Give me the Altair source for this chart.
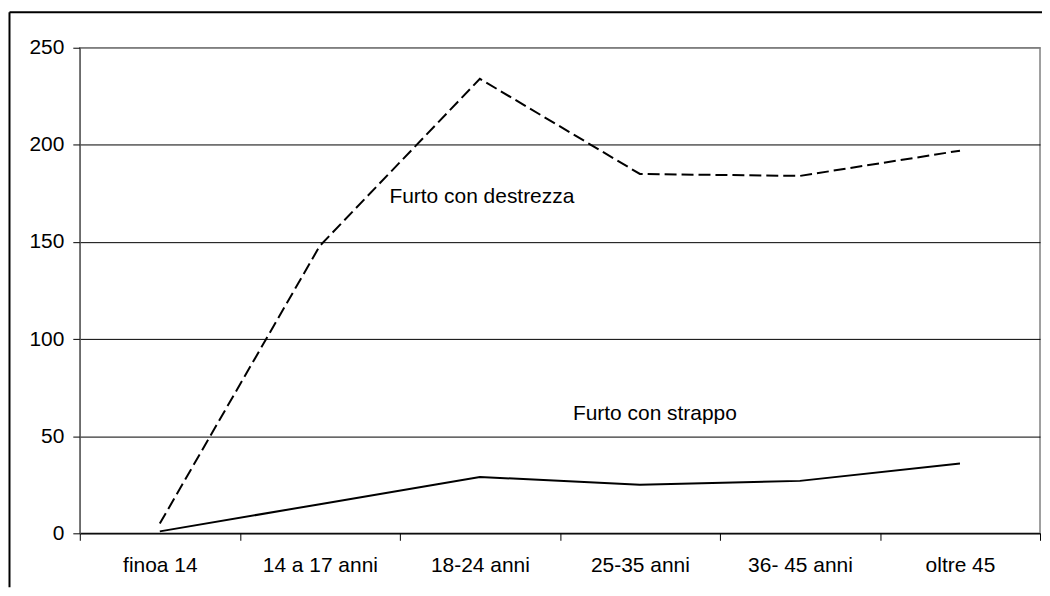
import altair as alt
import pandas as pd

categories = ["finoa 14", "14 a 17 anni", "18-24 anni", "25-35 anni", "36- 45 anni", "oltre 45"]
destrezza = [5, 148, 234, 185, 184, 197]
strappo = [1, 15, 29, 25, 27, 36]

label_text = ["Furto con destrezza", "Furto con strappo"]
label_cat = ["18-24 anni", "25-35 anni"]
label_val = [170, 58.5]

df = pd.DataFrame({
    "cat": categories * 2,
    "value": destrezza + strappo,
    "serie": ["Furto con destrezza"] * 6 + ["Furto con strappo"] * 6,
})
lab = pd.DataFrame({"cat": label_cat, "value": label_val, "text": label_text})

FONT = "Liberation Sans"
FS = 21
W, H = 963, 487
PAD = {"left": 72, "top": 39, "right": 2, "bottom": 54}

x_enc = alt.X(
    "cat:N",
    sort=categories,
    title=None,
    scale=alt.Scale(type="band", paddingInner=0, paddingOuter=0),
    axis=alt.Axis(
        labelAngle=0, tickBand="extent", tickSize=7, tickColor="#000000",
        domainColor="#000000", labelFontSize=FS, labelFont=FONT, labelColor="#000000",
        labelPadding=14, grid=False,
    ),
)
y_enc = alt.Y(
    "value:Q",
    title=None,
    scale=alt.Scale(domain=[0, 250], nice=False),
    axis=alt.Axis(
        values=[0, 50, 100, 150, 200, 250], tickSize=7, tickColor="#000000",
        domainColor="#555555", labelFontSize=FS, labelFont=FONT, labelColor="#000000",
        labelPadding=9, grid=True,
        gridColor={"condition": {"test": "datum.value === 250", "value": "#808080"}, "value": "#000000"},
        gridWidth=1,
    ),
)

base = alt.Chart(df)
dashed = base.transform_filter(alt.datum.serie == "Furto con destrezza").mark_line(
    color="#000000", strokeWidth=2, strokeDash=[12, 5]
).encode(x=x_enc, y=y_enc)
solid = base.transform_filter(alt.datum.serie == "Furto con strappo").mark_line(
    color="#000000", strokeWidth=2
).encode(x=alt.X("cat:N", sort=categories), y="value:Q")

lab1 = alt.Chart(lab.iloc[[0]]).mark_text(
    font=FONT, fontSize=FS, color="#000000", baseline="alphabetic", align="center", dx=2
).encode(x=alt.X("cat:N", sort=categories), y="value:Q", text="text:N")
lab2 = alt.Chart(lab.iloc[[1]]).mark_text(
    font=FONT, fontSize=FS, color="#000000", baseline="alphabetic", align="center", dx=15
).encode(x=alt.X("cat:N", sort=categories), y="value:Q", text="text:N")

# outer chart frame (only top and left edges are inside the picture)
one = pd.DataFrame({"a": [0]})
frame_top = alt.Chart(one).mark_rule(color="#000000", strokeWidth=2).encode(
    x=alt.value(-70.5), x2=alt.value(W + PAD["right"]), y=alt.value(-35.5)
)
frame_left = alt.Chart(one).mark_rule(color="#000000", strokeWidth=2).encode(
    x=alt.value(-70.5), y=alt.value(-35.5), y2=alt.value(H + PAD["bottom"])
)

chart = alt.layer(frame_top, frame_left, dashed, solid, lab1, lab2).properties(
    width=W, height=H,
    background="#ffffff",
    autosize=alt.AutoSizeParams(type="none"),
    padding=PAD,
).configure_view(stroke="#808080", strokeWidth=1.5)

chart.save("out.html", embed_options={"renderer": "svg", "actions": False})
